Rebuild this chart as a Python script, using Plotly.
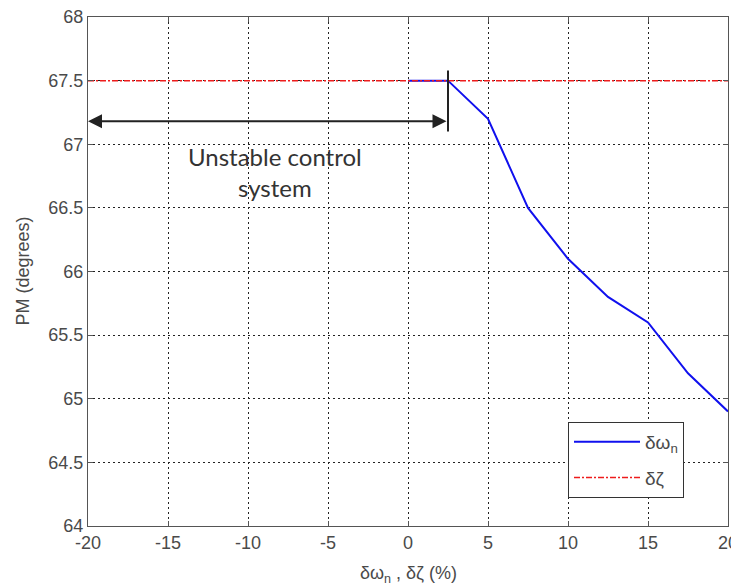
import plotly.graph_objects as go

# Data
dw_x = [0, 2.5, 5, 7.5, 10, 12.5, 15, 17.5, 20]
dw_y = [67.5, 67.5, 67.2, 66.5, 66.1, 65.8, 65.6, 65.2, 64.9]
dz_x = [-20, -15, -10, -5, 0, 5, 10, 15, 20]
dz_y = [67.5, 67.5, 67.5, 67.5, 67.5, 67.5, 67.5, 67.5, 67.5]
x_ticks = [-20, -15, -10, -5, 0, 5, 10, 15, 20]
x_tick_labels = ["-20", "-15", "-10", "-5", "0", "5", "10", "15", "20"]
y_ticks = [64, 64.5, 65, 65.5, 66, 66.5, 67, 67.5, 68]
y_tick_labels = ["64", "64.5", "65", "65.5", "66", "66.5", "67", "67.5", "68"]

# annotation anchors (data units)
stable_limit = 2.5
arrow_y = 67.18
vline_y = [67.1, 67.58]
label_x = -8.3
label_y = 66.78

TICK_FONT = dict(family="Liberation Sans, Arial, sans-serif", size=18, color="#4a4a4a")

fig = go.Figure()
fig.add_trace(go.Scatter(x=dw_x, y=dw_y, mode="lines", name="δω<sub>n</sub>",
                         line=dict(color="#1010ee", width=2), legendgroup="a"))
fig.add_trace(go.Scatter(x=dz_x, y=dz_y, mode="lines", name="δζ",
                         line=dict(color="#ee1c1c", width=1.5, dash="6px,2px,2px,2px"), legendgroup="b"))

axis_common = dict(showline=True, linecolor="#555555", linewidth=1.3, mirror="ticks",
                   ticks="inside", ticklen=5, tickcolor="#555555",
                   showgrid=True, gridcolor="#222222", gridwidth=1, griddash="2px,3px",
                   zeroline=False, tickfont=TICK_FONT, automargin=False,
                   ticklabeloverflow="allow")

fig.update_xaxes(range=[-20, 20], tickvals=x_ticks, ticktext=x_tick_labels, **axis_common)
fig.update_yaxes(range=[64, 68], tickvals=y_ticks, ticktext=y_tick_labels, **axis_common)

# vertical marker line at stability limit
fig.add_shape(type="line", x0=stable_limit, x1=stable_limit, y0=vline_y[0], y1=vline_y[1],
              xref="x", yref="y", line=dict(color="#222222", width=2))
# double arrow
fig.add_annotation(x=-20, y=arrow_y, ax=stable_limit, ay=arrow_y, xref="x", yref="y",
                   axref="x", ayref="y", showarrow=True, arrowhead=2, arrowside="end+start",
                   arrowsize=1.4, arrowwidth=2, arrowcolor="#222222", text="")
fig.add_annotation(x=label_x, y=label_y, xref="x", yref="y", showarrow=False,
                   text="Unstable control<br>system",
                   font=dict(family="Lato, Open Sans, sans-serif", size=24, color="#333333"))

# axis labels
fig.add_annotation(x=-0.103, y=0.5, xref="paper", yref="paper", showarrow=False,
                   xanchor="center", yanchor="middle",
                   text="PM (degrees)", textangle=-90,
                   font=TICK_FONT)
fig.add_annotation(x=0.5, y=-0.096, xref="paper", yref="paper", showarrow=False,
                   xanchor="center", yanchor="middle",
                   text="δω<sub>n</sub> , δζ (%)", font=TICK_FONT)

# the page body has an 8px default margin, so the figure is 8px smaller
fig.update_layout(
    width=731, height=577,
    margin=dict(l=80, r=11, t=9, b=59, autoexpand=False),
    paper_bgcolor="white", plot_bgcolor="white",
    showlegend=True,
    legend=dict(x=0.75, y=0.055, xanchor="left", yanchor="bottom",
                bgcolor="white", bordercolor="#333333", borderwidth=1,
                itemwidth=66, tracegroupgap=8,
                font=dict(family="Liberation Sans, Arial, sans-serif", size=19, color="#4a4a4a")),
)

fig.write_html("out.html")
